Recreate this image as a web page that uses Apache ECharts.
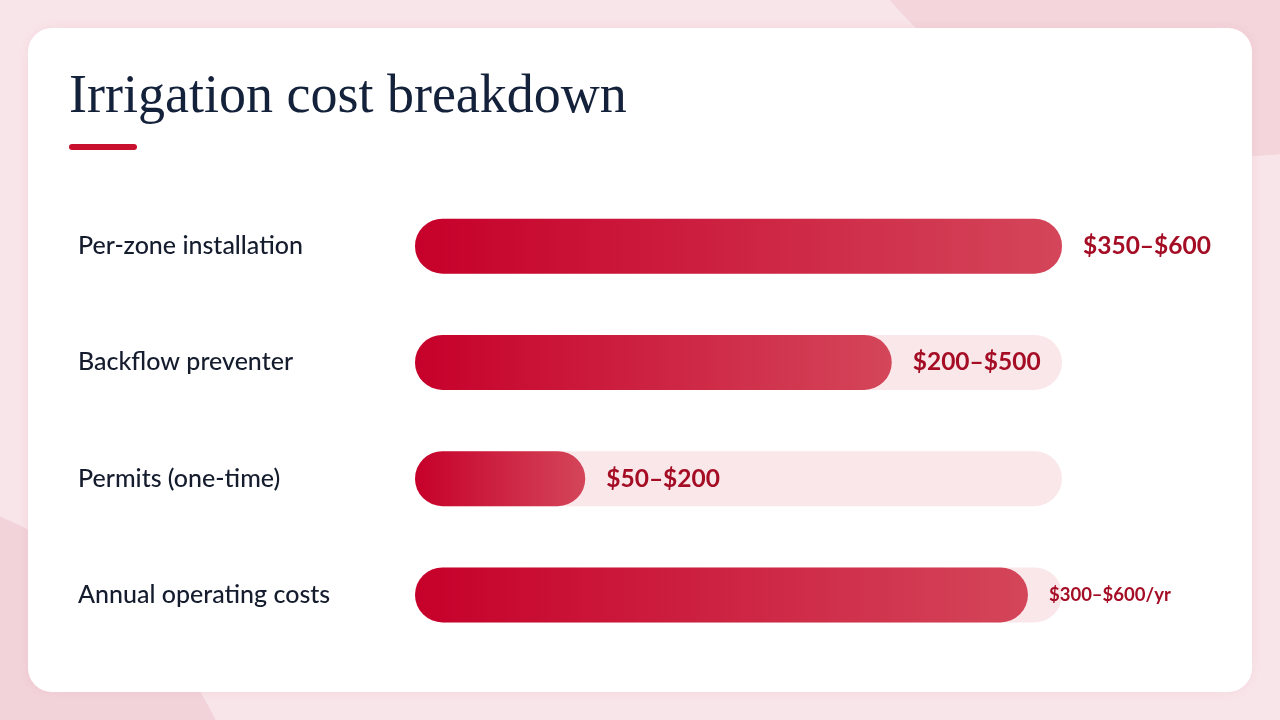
<!DOCTYPE html>
<html>
<head>
<meta charset="utf-8">
<script src="https://cdn.jsdelivr.net/npm/echarts@6/dist/echarts.min.js"></script>
<style>
  html, body { margin: 0; padding: 0; background: #f8e5e9; }
  #main { width: 1280px; height: 720px; }
</style>
</head>
<body>
<div id="main"></div>
<script>
// data
var categories = ['Per-zone installation', 'Backflow preventer', 'Permits (one-time)', 'Annual operating costs'];
// bar length = midpoint of each range
var midValues = [475, 350, 125, 450];
var rangeLabels = ['$350–$600', '$200–$500', '$50–$200', '$300–$600/yr'];

var chart = echarts.init(document.getElementById('main'));

// long label gets the small size, like the original
var barData = midValues.map(function (v, i) {
  return {
    value: v,
    label: { formatter: rangeLabels[i], fontSize: rangeLabels[i].length > 10 ? 18.5 : 24.5 }
  };
});

var option = {
  backgroundColor: '#f8e5e9',
  graphic: [
    // page blobs
    { type: 'circle', z: -10, shape: { cx: 1230, cy: -290, r: 447 }, style: { fill: '#f3d5db' } },
    { type: 'circle', z: -10, shape: { cx: -162, cy: 904, r: 420 }, style: { fill: '#f2d3da' } },
    // card
    { type: 'rect', z: -5, shape: { x: 28, y: 28, width: 1224, height: 664, r: 24 },
      style: { fill: '#ffffff', shadowBlur: 12, shadowColor: 'rgba(180,40,70,0.06)' } },
    // red underline under title
    { type: 'rect', shape: { x: 69, y: 144, width: 68, height: 6, r: 3 }, style: { fill: '#c8102e' } }
  ],
  title: {
    text: 'Irrigation cost breakdown',
    left: 64,
    top: 66,
    textStyle: {
      fontFamily: 'Liberation Serif',
      fontWeight: 'normal',
      fontSize: 54,
      color: '#14213a'
    }
  },
  grid: { left: 415, right: 218, top: 188, bottom: 67 },
  xAxis: {
    type: 'value',
    min: 0,
    max: 475,
    show: false
  },
  yAxis: {
    type: 'category',
    data: categories,
    inverse: true,
    axisLine: { show: false },
    axisTick: { show: false },
    axisLabel: {
      margin: 337,
      align: 'left',
      fontFamily: 'Lato',
      fontWeight: 500,
      fontSize: 25,
      color: '#141c2e'
    }
  },
  series: [{
    type: 'bar',
    data: barData,
    barWidth: 55,
    showBackground: true,
    backgroundStyle: { color: '#f9e7ea', borderRadius: 28 },
    itemStyle: {
      borderRadius: 28,
      color: new echarts.graphic.LinearGradient(0, 0, 1, 0, [
        { offset: 0, color: '#c6002a' },
        { offset: 1, color: '#d4465a' }
      ])
    },
    label: {
      show: true,
      position: 'right',
      distance: 21,
      fontFamily: 'Lato',
      fontWeight: 'bold',
      color: '#a50d25'
    }
  }]
};

chart.setOption(option);
</script>
</body>
</html>
